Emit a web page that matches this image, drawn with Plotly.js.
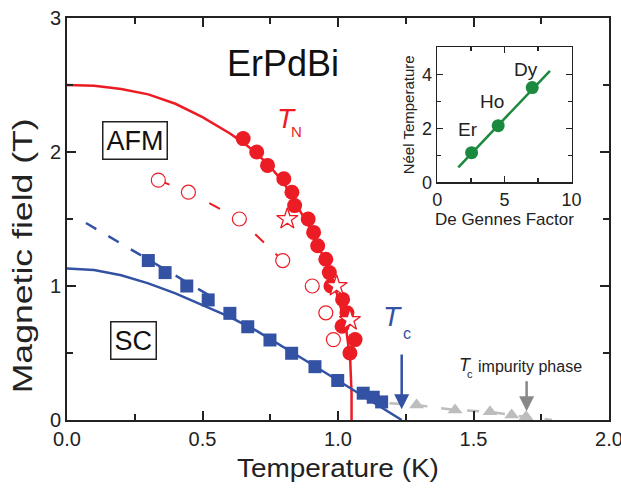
<!DOCTYPE html>
<html>
<head>
<meta charset="utf-8">
<script src="https://cdn.plot.ly/plotly-3.0.1.min.js"></script>
<style>html,body{margin:0;padding:0;background:#fff}#chart{width:621px;height:491px}</style>
</head>
<body>
<div id="chart"></div>
<script>
// ---- main panel data (Temperature K, Magnetic field T) ----
const tnT = [0.65, 0.70, 0.74, 0.80, 0.83, 0.84, 0.89, 0.91, 0.925, 0.955, 0.968, 0.974, 1.017, 1.033, 1.015, 1.063, 1.044];
const tnH = [2.1, 2.0, 1.9, 1.8, 1.7, 1.6, 1.5, 1.4, 1.3, 1.2, 1.1, 1.0, 0.9, 0.8, 0.7, 0.6, 0.5];
const tnFitT = [0, 0.1, 0.2, 0.3, 0.4, 0.5, 0.6, 0.65, 0.7, 0.75, 0.8, 0.85, 0.9, 0.95, 1.0, 1.03, 1.045, 1.05, 1.05];
const tnFitH = [2.5, 2.495, 2.47, 2.43, 2.36, 2.26, 2.14, 2.07, 1.99, 1.89, 1.77, 1.6, 1.42, 1.2, 0.92, 0.68, 0.45, 0.2, 0.0];
const openT = [0.337, 0.448, 0.636, 0.796, 0.905, 0.955, 0.983];
const openH = [1.79, 1.70, 1.50, 1.19, 1.0, 0.8, 0.6];
const openGuideT = [0.337, 0.448, 0.636, 0.796, 0.84];
const openGuideH = [1.79, 1.70, 1.50, 1.19, 1.12];
const starT = [0.813, 0.995, 1.044];
const starH = [1.5, 1.0, 0.746];
const scT = [0.30, 0.362, 0.442, 0.521, 0.601, 0.667, 0.749, 0.829, 0.915, 0.999, 1.093, 1.13, 1.161];
const scH = [1.19, 1.10, 1.0, 0.896, 0.796, 0.696, 0.597, 0.498, 0.398, 0.295, 0.2, 0.17, 0.135];
const scFitT = [0, 0.1, 0.2, 0.3, 0.4, 0.5, 0.6, 0.7, 0.8, 0.9, 1.0, 1.1, 1.2, 1.235];
const scFitH = [1.13, 1.12, 1.08, 1.02, 0.945, 0.86, 0.77, 0.665, 0.545, 0.42, 0.295, 0.17, 0.045, 0];
const scGuideT = [0.07, 0.55];
const scGuideH = [1.47, 0.90];
const impT = [1.29, 1.432, 1.561, 1.641, 1.694];
const impH = [0.112, 0.075, 0.062, 0.037, 0.025];
const impGuideT = [1.19, 1.29, 1.432, 1.561, 1.641, 1.694, 1.79];
const impGuideH = [0.125, 0.112, 0.075, 0.062, 0.037, 0.025, 0.0];
const xTickVals = [0, 0.5, 1.0, 1.5, 2.0];
const xTickText = ['0.0', '0.5', '1.0', '1.5', '2.0'];
const yTickVals = [0, 1, 2, 3];
const yTickText = ['0', '1', '2', '3'];

// ---- inset data ----
const insetNames = ['Er', 'Ho', 'Dy'];
const deGennes = [2.56, 4.54, 7.07];
const neelT = [1.10, 2.10, 3.51];
const insetFitX = [1.57, 8.39];
const insetFitY = [0.56, 4.13];
const insetXTicks = [0, 5, 10];
const insetYTicks = [0, 2, 4];

const RED = '#ec1c24';
const BLUE = '#3452a4';
const GRAY = '#bdbdbd';
const GREEN = '#1c8a3e';
const FONT = 'Liberation Sans, Arial, sans-serif';

const traces = [
  {x: tnFitT, y: tnFitH, mode: 'lines', line: {color: RED, width: 2.5}},
  {x: scFitT, y: scFitH, mode: 'lines', line: {color: BLUE, width: 2.5}},
  {x: scGuideT, y: scGuideH, mode: 'lines', line: {color: BLUE, width: 2.5, dash: '12px,14px'}},
  {x: openGuideT, y: openGuideH, mode: 'lines', line: {color: RED, width: 2, dash: '12px,16px'}},
  {x: impGuideT, y: impGuideH, mode: 'lines', line: {color: GRAY, width: 2.5, dash: '12px,14px'}},
  {x: impT, y: impH, mode: 'markers', marker: {symbol: 'triangle-up', size: 13, color: GRAY}},
  {x: scT, y: scH, mode: 'markers', marker: {symbol: 'square', size: 13, color: BLUE}},
  {x: openT, y: openH, mode: 'markers', marker: {symbol: 'circle', size: 14, color: '#ffffff', line: {color: RED, width: 1.2}}},
  {x: tnT, y: tnH, mode: 'markers', marker: {symbol: 'circle', size: 15, color: RED}},
  {x: starT, y: starH, mode: 'markers', marker: {symbol: 'star', size: 16, color: '#ffffff', line: {color: RED, width: 1.3}}},
  {x: insetFitX, y: insetFitY, xaxis: 'x2', yaxis: 'y2', mode: 'lines', line: {color: GREEN, width: 2.5}},
  {x: deGennes, y: neelT, xaxis: 'x2', yaxis: 'y2', mode: 'markers', marker: {symbol: 'circle', size: 13, color: GREEN}}
];

const axMain = {
  showgrid: false, zeroline: false, showline: true, linecolor: '#222', linewidth: 2,
  mirror: 'ticks', ticks: 'inside', ticklen: 9, tickwidth: 2, tickcolor: '#222',
  ticklabeloverflow: 'allow',
  tickfont: {family: FONT, size: 20, color: '#222'}
};
const axInset = {
  showgrid: false, zeroline: false, showline: true, linecolor: '#222', linewidth: 1.5,
  mirror: 'ticks', ticks: 'inside', ticklen: 6, tickwidth: 1.5, tickcolor: '#222',
  tickfont: {family: FONT, size: 18, color: '#222'}
};

const ann = (x, y, text, size, color, extra) => Object.assign({
  x: x, y: y, xref: 'x', yref: 'y', text: text, showarrow: false,
  font: {family: FONT, size: size, color: color}
}, extra || {});

const layout = {
  width: 621, height: 491,
  margin: {l: 67, r: 12, t: 18, b: 71},
  paper_bgcolor: '#fff', plot_bgcolor: '#fff',
  showlegend: false,
  xaxis: Object.assign({}, axMain, {range: [0, 2.0], tickvals: xTickVals, ticktext: xTickText,
    minor: {dtick: 0.25, ticks: 'inside', ticklen: 6, tickwidth: 2, tickcolor: '#222'}}),
  yaxis: Object.assign({}, axMain, {range: [0, 3], tickvals: yTickVals, ticktext: yTickText,
    minor: {dtick: 0.5, ticks: 'inside', ticklen: 6, tickwidth: 2, tickcolor: '#222'}}),
  xaxis2: Object.assign({}, axInset, {domain: [0.683, 0.931], anchor: 'y2', range: [0, 10],
    tickvals: insetXTicks, minor: {dtick: 2.5, ticks: 'inside', ticklen: 4, tickwidth: 1.5, tickcolor: '#222'},
    title: {text: 'De Gennes Factor', font: {family: FONT, size: 17, color: '#222'}, standoff: 2}}),
  yaxis2: Object.assign({}, axInset, {domain: [0.591, 0.927], anchor: 'x2', range: [0, 5],
    tickvals: insetYTicks, minor: {dtick: 1, ticks: 'inside', ticklen: 4, tickwidth: 1.5, tickcolor: '#222'},
    title: {text: 'Néel Temperature', font: {family: FONT, size: 15, color: '#222'}, standoff: 4}}),
  annotations: [
    {xref: 'paper', yref: 'paper', x: 0.5, y: -0.119, yanchor: 'middle', text: 'Temperature (K)', showarrow: false,
     font: {family: FONT, size: 26, color: '#222'}},
    {xref: 'paper', yref: 'paper', x: -0.081, y: 0.408, xanchor: 'center', yanchor: 'middle', textangle: -90,
     text: 'Magnetic field (T)', showarrow: false, font: {family: FONT, size: 27, color: '#222'}},
    ann(0.797, 2.664, 'ErPdBi', 36, '#111'),
    ann(0.251, 2.083, 'AFM', 27, '#111', {bordercolor: '#222', borderwidth: 1.5, borderpad: 3, bgcolor: '#fff'}),
    ann(0.246, 0.593, 'SC', 27, '#111', {bordercolor: '#222', borderwidth: 1.5, borderpad: 3, bgcolor: '#fff'}),
    ann(0.81, 2.25, '<i>T</i>', 28, RED),
    ann(0.847, 2.15, 'N', 15, RED),
    ann(1.202, 0.771, '<i>T</i>', 28, BLUE),
    ann(1.255, 0.647, 'c', 16, BLUE),
    ann(1.469, 0.41, '<i>T</i>', 18, '#222'),
    ann(1.488, 0.34, 'c', 11, '#222'),
    ann(1.71, 0.403, 'impurity phase', 16, '#222'),
    {x: 1.235, y: 0.08, ax: 1.235, ay: 0.5, xref: 'x', yref: 'y', axref: 'x', ayref: 'y', text: '',
     showarrow: true, arrowhead: 2, arrowsize: 1.2, arrowwidth: 2.5, arrowcolor: BLUE},
    {x: 1.696, y: 0.065, ax: 1.696, ay: 0.3, xref: 'x', yref: 'y', axref: 'x', ayref: 'y', text: '',
     showarrow: true, arrowhead: 2, arrowsize: 1.2, arrowwidth: 2.5, arrowcolor: '#888'},
    {x: 2.31, y: 1.95, xref: 'x2', yref: 'y2', text: insetNames[0], showarrow: false, font: {family: FONT, size: 19, color: '#222'}},
    {x: 4.05, y: 3.0, xref: 'x2', yref: 'y2', text: insetNames[1], showarrow: false, font: {family: FONT, size: 19, color: '#222'}},
    {x: 6.58, y: 4.19, xref: 'x2', yref: 'y2', text: insetNames[2], showarrow: false, font: {family: FONT, size: 19, color: '#222'}}
  ]
};

Plotly.newPlot('chart', traces, layout, {displayModeBar: false, staticPlot: true}).then(function () {
  // the reference's axis titles are drawn slightly stretched along their baseline
  document.querySelectorAll('#chart .annotation-text').forEach(function (t) {
    if (t.textContent === 'Magnetic field (T)') {
      t.setAttribute('textLength', '275');
      t.setAttribute('lengthAdjust', 'spacingAndGlyphs');
    } else if (t.textContent === 'Temperature (K)') {
      t.setAttribute('textLength', '202');
      t.setAttribute('lengthAdjust', 'spacingAndGlyphs');
    }
  });
});
</script>
</body>
</html>
